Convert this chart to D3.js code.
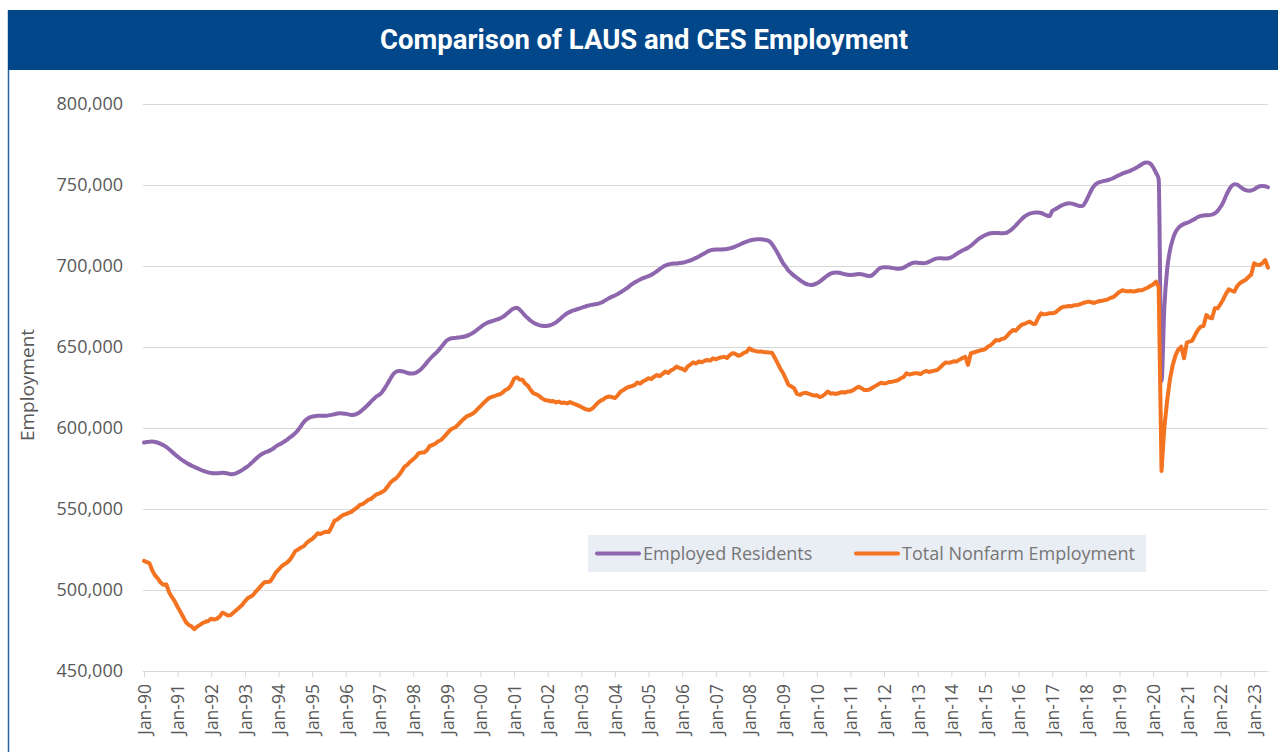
<!DOCTYPE html>
<html>
<head>
<meta charset="utf-8">
<script src="https://cdn.jsdelivr.net/npm/d3@7"></script>
<style>
  body { margin: 0; background: #fff; }
  svg { display: block; font-family: "Open Sans", sans-serif; }
</style>
</head>
<body>
<svg id="chart" width="1278" height="752"></svg>
<script>
// monthly values, in thousands, Jan-90 .. Jun-23
var startMonth = new Date(1990, 0, 1);

var employedResidents = [
  591.0, 591.3, 591.5, 591.6, 591.4, 590.9, 590.2, 589.3, 588.2, 586.9, 585.4, 583.8,
  582.3, 581.0, 579.8, 578.7, 577.7, 576.8, 576.0, 575.2, 574.4, 573.7, 573.1, 572.6,
  572.2, 572.0, 572.0, 572.2, 572.4, 572.2, 571.9, 571.5, 571.6, 572.2, 573.0, 574.0,
  575.2, 576.4, 577.8, 579.4, 581.0, 582.6, 583.8, 584.7, 585.4, 586.2, 587.2, 588.5,
  589.6, 590.5, 591.5, 592.7, 594.0, 595.3, 596.8, 598.8, 601.2, 603.6, 605.3, 606.4,
  607.0, 607.3, 607.5, 607.5, 607.5, 607.6, 607.8, 608.1, 608.5, 608.9, 609.1, 609.0,
  608.8, 608.4, 608.1, 608.2, 608.8, 609.8, 611.2, 612.8, 614.5, 616.3, 618.0, 619.6,
  620.6, 622.4, 624.8, 627.6, 630.6, 633.3, 634.7, 635.2, 635.1, 634.6, 634.0, 633.7,
  633.7, 634.2, 635.1, 636.5, 638.4, 640.5, 642.6, 644.4, 646.0, 647.8, 649.8, 652.0,
  654.0, 655.0, 655.4, 655.6, 655.8, 656.0, 656.3, 656.8, 657.5, 658.4, 659.5, 660.8,
  662.2, 663.5, 664.5, 665.3, 665.9, 666.4, 667.0, 667.7, 668.6, 669.8, 671.3, 672.8,
  673.8, 674.2, 673.2, 671.3, 669.4, 667.7, 666.2, 665.0, 664.1, 663.5, 663.1, 663.0,
  663.1, 663.5, 664.2, 665.2, 666.6, 668.1, 669.6, 670.8, 671.7, 672.4, 673.0, 673.6,
  674.1, 674.7, 675.3, 675.8, 676.1, 676.4, 676.7, 677.3, 678.2, 679.2, 680.2, 681.1,
  681.8, 682.7, 683.7, 684.8, 686.0, 687.3, 688.6, 689.8, 690.8, 691.7, 692.5, 693.2,
  693.8, 694.6, 695.6, 696.8, 698.1, 699.3, 700.3, 700.9, 701.3, 701.5, 701.6, 701.8,
  702.0, 702.4, 702.9, 703.5, 704.2, 705.0, 705.9, 706.9, 707.9, 708.9, 709.6, 710.0,
  710.2, 710.2, 710.2, 710.3, 710.5, 710.9, 711.4, 712.1, 712.8, 713.6, 714.4, 715.1,
  715.7, 716.1, 716.4, 716.5, 716.5, 716.3, 716.0, 715.3, 713.6, 711.0, 708.0, 704.8,
  701.6, 699.3, 697.1, 695.4, 693.9, 692.6, 691.3, 690.1, 689.1, 688.5, 688.3, 688.6,
  689.3, 690.3, 691.6, 693.0, 694.3, 695.3, 695.9, 696.0, 695.8, 695.4, 694.9, 694.6,
  694.5, 694.6, 694.8, 695.0, 694.9, 694.5, 694.0, 693.8, 694.6, 696.2, 698.0, 699.0,
  699.3, 699.3, 699.1, 698.8, 698.5, 698.3, 698.4, 699.0, 700.0, 701.0, 701.8, 702.1,
  702.0, 701.8, 701.7, 701.9, 702.5, 703.4, 704.2, 704.7, 704.8, 704.7, 704.6, 704.8,
  705.4, 706.4, 707.5, 708.6, 709.6, 710.4, 711.3, 712.5, 714.0, 715.6, 717.0, 718.1,
  719.0, 719.7, 720.2, 720.4, 720.4, 720.3, 720.2, 720.3, 720.8, 721.8, 723.3, 725.0,
  727.0, 728.8, 730.3, 731.5, 732.3, 732.8, 733.0, 733.0, 732.7, 732.0, 731.2, 730.8,
  734.0, 735.0, 736.0, 737.0, 737.8, 738.4, 738.7, 738.5, 738.0, 737.4, 737.0, 737.2,
  740.0, 743.5, 746.8, 749.5, 751.0, 751.8, 752.3, 752.7, 753.1, 753.7, 754.5, 755.4,
  756.2, 757.0, 757.6, 758.2, 758.9, 759.7, 760.6, 761.7, 762.8, 763.7, 763.9, 763.2,
  761.0, 757.5, 753.6, 629.0, 674.0, 698.0, 709.5, 716.5, 721.0, 723.5, 725.0, 726.0,
  726.6, 727.3, 728.2, 729.2, 730.2, 730.9, 731.2, 731.3, 731.4, 731.7, 732.5, 734.0,
  736.4, 739.5, 743.2, 746.8, 749.3, 750.5, 750.2, 749.0, 747.7, 746.8, 746.5, 746.6,
  747.3, 748.4, 749.2, 749.4, 749.2, 748.6
];

var totalNonfarm = [
  518.0, 517.2, 516.6, 512.0, 509.0, 507.0, 504.5, 503.2, 503.4, 498.5, 495.6, 493.0,
  489.5, 486.5, 483.5, 480.2, 478.4, 477.6, 475.8, 477.4, 478.5, 479.6, 480.4, 481.0,
  482.3, 481.8, 482.2, 483.6, 486.0, 485.3, 484.2, 484.6, 486.2, 487.7, 489.2, 490.7,
  493.0, 495.0, 495.8, 497.0, 499.2, 501.0, 503.0, 504.8, 505.0, 505.2, 507.8, 510.7,
  512.6, 514.5, 515.8, 516.8, 518.5, 521.0, 524.0, 525.0, 526.2, 527.0, 529.0, 530.4,
  531.5, 533.2, 535.0, 534.6, 535.4, 536.0, 535.8, 539.0, 542.8, 543.5, 545.0, 546.3,
  546.8, 547.6, 548.2, 549.6, 550.8, 552.5, 553.0, 554.2, 555.6, 556.2, 557.8, 559.1,
  559.6, 560.6, 561.7, 564.0, 566.4, 567.9, 569.0, 571.0, 573.5, 576.2, 577.4, 579.3,
  580.6, 582.3, 584.4, 584.8, 584.8, 586.4, 588.9, 589.5, 590.4, 591.8, 592.6, 594.4,
  596.4, 598.4, 599.6, 600.3, 601.8, 603.8, 605.4, 607.0, 607.8, 608.6, 609.8, 611.6,
  613.4, 615.2, 616.8, 618.3, 619.2, 619.6, 620.4, 620.8, 622.0, 623.5, 624.4, 626.6,
  630.4, 631.3, 630.0, 629.8, 627.5, 626.0, 623.4, 621.4, 620.8, 619.8, 618.3, 617.3,
  617.0, 616.5, 616.7, 615.8, 616.3, 615.4, 615.7, 615.2, 616.0, 615.2, 614.6, 613.8,
  613.0, 612.0, 611.4, 611.1, 612.0, 613.8, 615.6, 616.9, 617.8, 619.0, 619.4, 619.0,
  618.4, 620.2, 622.4, 623.4, 624.6, 625.5, 625.8, 626.5, 628.0, 627.4, 628.8, 629.6,
  630.7, 630.2, 631.6, 632.7, 632.0, 633.4, 634.8, 634.0, 635.6, 636.4, 637.9, 637.0,
  636.6, 635.5, 638.0, 639.2, 640.5, 639.8, 641.1, 640.6, 641.5, 642.0, 641.6, 643.0,
  642.4, 643.2, 643.6, 644.0, 643.2, 645.0, 646.2, 645.8, 644.6, 645.1, 646.4, 647.0,
  649.2, 648.0, 647.6, 647.1, 647.3, 646.9, 646.8, 646.6, 646.5, 643.5, 640.0, 636.6,
  633.8, 630.0, 626.5, 625.6, 624.5, 621.0, 620.4, 621.4, 621.8, 621.2, 620.6, 620.0,
  620.2, 619.0, 619.6, 621.0, 622.5, 621.2, 621.4, 621.0, 621.6, 622.2, 621.8, 622.5,
  622.6, 623.4, 624.5, 625.5, 624.6, 623.5, 623.4, 623.9, 625.0, 626.0, 627.0, 628.0,
  627.4, 627.8, 628.4, 628.6, 629.0, 629.5, 630.7, 631.5, 633.8, 633.0, 633.4, 633.8,
  633.8, 633.2, 634.4, 635.2, 634.6, 635.0, 635.4, 635.8, 637.4, 639.0, 640.5, 640.2,
  640.6, 641.2, 641.1, 642.2, 643.2, 644.0, 639.0, 646.2, 646.6, 647.2, 647.8, 648.1,
  648.6, 650.2, 651.0, 652.6, 654.3, 654.0, 655.0, 655.3, 657.0, 659.0, 660.5, 660.0,
  662.0, 663.6, 664.2, 665.0, 665.7, 664.4, 664.2, 668.0, 670.8, 670.2, 670.4, 670.8,
  670.8, 671.2, 672.5, 674.0, 674.9, 675.0, 675.3, 675.2, 675.8, 675.9, 676.4, 677.2,
  677.6, 678.0, 677.6, 677.2, 677.8, 678.4, 678.6, 679.0, 679.6, 680.4, 681.0, 682.6,
  684.0, 685.0, 684.6, 684.4, 684.6, 684.2, 684.6, 685.0, 685.0, 685.8, 686.6, 687.6,
  688.6, 690.3, 687.0, 573.5, 600.0, 617.0, 630.0, 639.0, 645.0, 648.5, 650.2, 643.0,
  652.7, 653.4, 654.0, 657.5, 660.5, 662.6, 663.0, 669.8, 668.2, 667.7, 673.9, 673.9,
  676.5, 679.5, 682.8, 685.6, 684.8, 684.2, 687.6, 689.4, 690.6, 691.4, 693.2, 694.8,
  701.7, 700.8, 700.6, 701.7, 703.7, 699.0
];

var yTicks = [450000, 500000, 550000, 600000, 650000, 700000, 750000, 800000];
var seriesNames = ["Employed Residents", "Total Nonfarm Employment"];
var seriesColors = ["#8d66ae", "#f47321"];
var title = "Comparison of LAUS and CES Employment";

var svg = d3.select("#chart");
var plotLeft = 144, plotRight = 1268, plotTop = 104, plotBottom = 671;

var months = employedResidents.map(function (d, i) { return d3.timeMonth.offset(startMonth, i); });

var x = d3.scaleTime()
    .domain([months[0], months[months.length - 1]])
    .range([plotLeft, plotRight]);

var y = d3.scaleLinear()
    .domain([450000, 800000])
    .range([plotBottom, plotTop]);

// frame + title bar
svg.append("line")
    .attr("x1", 8.5).attr("x2", 8.5).attr("y1", 10).attr("y2", 752)
    .style("stroke", "#2f5f9e").style("stroke-width", 1.5);

svg.append("rect")
    .attr("x", 8).attr("y", 10).attr("width", 1270).attr("height", 60)
    .style("fill", "#02478a");

svg.append("text")
    .attr("x", 644).attr("y", 49)
    .attr("text-anchor", "middle")
    .attr("textLength", 528)
    .attr("lengthAdjust", "spacingAndGlyphs")
    .style("font-family", "Roboto, sans-serif")
    .style("font-weight", "bold")
    .style("font-size", "27px")
    .style("fill", "#fff")
    .text(title);

// gridlines
svg.append("g")
    .attr("transform", "translate(" + (plotLeft - 1) + ",0)")
    .call(d3.axisLeft(y).tickValues(yTicks).tickSize(-(plotRight - plotLeft + 1)).tickFormat(""))
    .call(function (g) {
        g.select(".domain").remove();
        g.selectAll("line").style("stroke", "#d9d9d9").style("stroke-width", 1);
    });

// y axis labels
svg.append("g")
    .attr("transform", "translate(" + (plotLeft - 1) + ",0)")
    .call(d3.axisLeft(y).tickValues(yTicks).tickSize(0).tickPadding(20).tickFormat(d3.format(",")))
    .call(function (g) {
        g.select(".domain").remove();
        g.selectAll("text")
            .style("font-family", "'Open Sans', sans-serif")
            .style("font-size", "18px")
            .style("fill", "#595959");
    });

svg.append("text")
    .attr("transform", "translate(34,385) rotate(-90)")
    .attr("text-anchor", "middle")
    .style("font-size", "19px")
    .style("fill", "#595959")
    .text("Employment");

// x axis
var xTicks = d3.timeYear.range(new Date(1990, 0, 1), new Date(2023, 1, 1));
svg.append("g")
    .attr("transform", "translate(0," + plotBottom + ")")
    .call(d3.axisBottom(x).tickValues(xTicks).tickSize(6).tickSizeOuter(0).tickFormat(d3.timeFormat("%b-%y")))
    .call(function (g) {
        g.select(".domain").style("stroke", "#d9d9d9");
        g.selectAll(".tick line").style("stroke", "#d9d9d9");
        g.selectAll("text")
            .attr("transform", "rotate(-90)")
            .attr("text-anchor", "end")
            .attr("x", -13).attr("y", 0).attr("dy", "0.36em")
            .style("font-family", "'Open Sans', sans-serif")
            .style("font-size", "17.5px")
            .style("fill", "#595959");
    });

// lines
var series = [employedResidents, totalNonfarm];
series.forEach(function (vals, i) {
    var line = d3.line()
        .x(function (d, j) { return x(months[j]); })
        .y(function (d) { return y(d * 1000); });
    if (i === 0) line.curve(d3.curveMonotoneX);
    svg.append("path")
        .datum(vals)
        .attr("d", line)
        .style("fill", "none")
        .style("stroke", seriesColors[i])
        .style("stroke-width", 4)
        .style("stroke-linejoin", "round")
        .style("stroke-linecap", "round");
});

// legend
var legend = svg.append("g");
legend.append("rect")
    .attr("x", 588).attr("y", 535).attr("width", 558).attr("height", 37)
    .style("fill", "#e9edf4");
var legendX = [597, 856];
seriesNames.forEach(function (name, i) {
    legend.append("line")
        .attr("x1", legendX[i]).attr("x2", legendX[i] + 42)
        .attr("y1", 553.5).attr("y2", 553.5)
        .style("stroke", seriesColors[i])
        .style("stroke-width", 4)
        .style("stroke-linecap", "round");
    legend.append("text")
        .attr("x", legendX[i] + 46).attr("y", 553.5).attr("dy", "0.35em")
        .style("font-size", "18px")
        .style("fill", "#767676")
        .text(name);
});
</script>
</body>
</html>
